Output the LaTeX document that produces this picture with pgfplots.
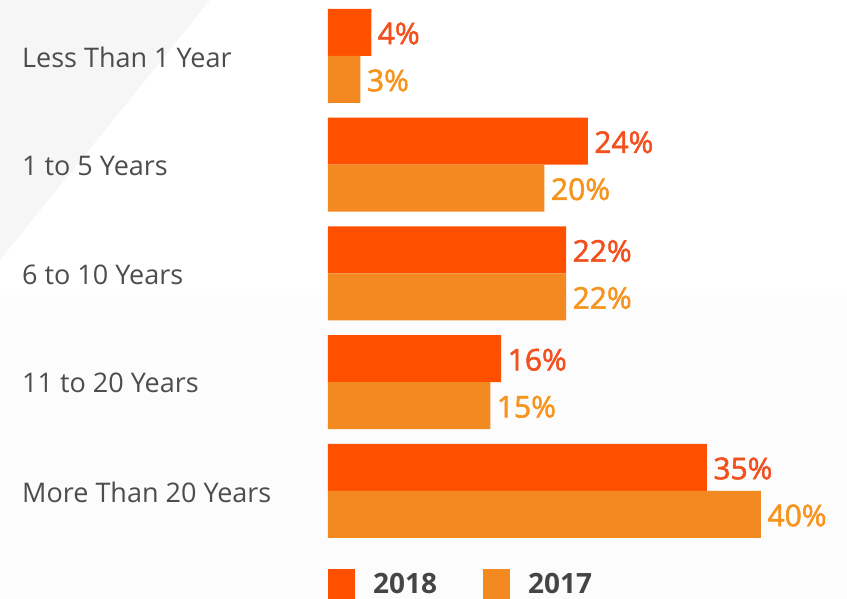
\documentclass[border=0pt]{standalone}
\usepackage{fontspec}
\setmainfont{Open Sans}
\newfontfamily\valfont{Open Sans}[FakeBold=1.8]
\usepackage{pgfplots}
\pgfplotsset{compat=1.18}
\definecolor{barA}{HTML}{FF5000}
\definecolor{barB}{HTML}{F28A21}
\definecolor{labA}{HTML}{F2501F}
\definecolor{labB}{HTML}{F7941D}
\definecolor{legA}{HTML}{F05A28}
\definecolor{legB}{HTML}{F5891F}
\definecolor{cattext}{HTML}{4D4D4D}
\definecolor{legtext}{HTML}{454545}
\definecolor{bgA}{HTML}{F6F6F6}
\definecolor{bgB}{HTML}{FCFCFC}
\begin{document}
\begin{tikzpicture}
\path[use as bounding box, fill=white] (0,0) rectangle (847pt,599pt);
\fill[bgB] (0,0) rectangle (847pt,304pt);
\fill[bgA] (0,599pt) -- (210pt,599pt) -- (0,339pt) -- cycle;
\begin{axis}[
  at={(328pt,53.625pt)}, anchor=south west,
  scale only axis, width=433pt, height=543.75pt,
  xmin=0, xmax=40, ymin=-0.5, ymax=4.5,
  xbar, bar width=47pt,
  /pgf/number format/assume math mode=true,
  axis line style={draw=none},
  xtick=\empty,
  ytick={0,1,2,3,4},
  yticklabels={More Than 20 Years,11 to 20 Years,6 to 10 Years,1 to 5 Years,Less Than 1 Year},
  major tick length=0pt,
  yticklabel style={anchor=west, inner sep=0pt, xshift=-306pt, yshift=-1pt, font=\fontsize{27}{32}\selectfont, text=cattext},
  nodes near coords={\pgfmathprintnumber{\pgfplotspointmeta}\%},
  legend columns=2,
  legend image code/.code={\fill[#1] (0pt,-15pt) rectangle (27pt,15pt);},
  legend style={at={(axis cs:0,-0.5)}, anchor=west, yshift=-39pt, xshift=0pt,
     draw=none, fill=none, inner sep=0pt,
     font=\bfseries\fontsize{28}{32}\selectfont, text=legtext,
     nodes={inner sep=0pt},
     /tikz/every odd column/.append style={column sep=18pt},
     /tikz/every even column/.append style={column sep=46pt}},
]
\addplot[fill=barA, draw=none, bar shift=23.5pt,
  every node near coord/.append style={anchor=west, xshift=3pt, yshift=-1pt, text=labA, font=\valfont\fontsize{30}{34}\selectfont}]
  coordinates {(4,4) (24,3) (22,2) (16,1) (35,0)};
\addlegendentry{2018}
\addplot[fill=barB, draw=none, bar shift=-23.5pt,
  every node near coord/.append style={anchor=west, xshift=3pt, yshift=-1pt, text=labB, font=\valfont\fontsize{30}{34}\selectfont}]
  coordinates {(3,4) (20,3) (22,2) (15,1) (40,0)};
\addlegendentry{2017}
\end{axis}
\end{tikzpicture}
\end{document}
